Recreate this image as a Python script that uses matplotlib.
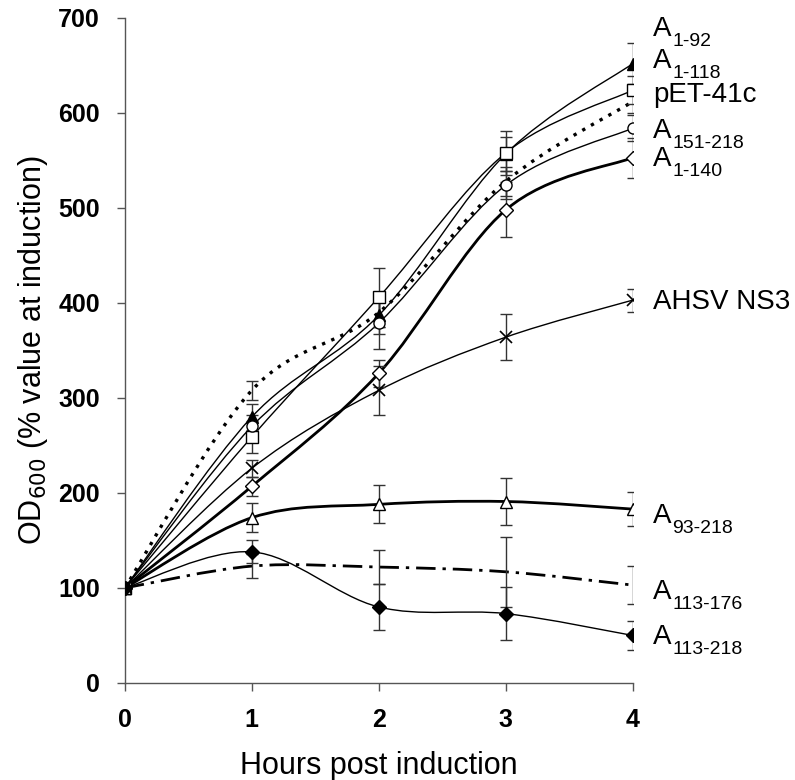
import numpy as np
import matplotlib
matplotlib.use("Agg")
import matplotlib.pyplot as plt
from matplotlib.path import Path
from matplotlib.patches import PathPatch

plt.rcParams['font.family'] = ['Liberation Sans', 'DejaVu Sans']

# hours after induction
hours = [0, 1, 2, 3, 4]

# OD600 as % of the value at induction, with error bars
a1_92 = [100, 280, 387, 557, 652]
a1_92_err = [0, 14, 20, 18, 22]
a1_118 = [100, 259, 406, 558, 624]
a1_118_err = [0, 17, 31, 23, 15]
pet41c = [100, 308, 390, 528, 612]
pet41c_err = [0, 10, 15, 15, 12]
a151_218 = [100, 270, 379, 524, 584]
a151_218_err = [0, 12, 27, 15, 14]
a1_140 = [100, 207, 326, 498, 553]
a1_140_err = [0, 10, 14, 29, 21]
ns3 = [100, 226, 308, 364, 403]
ns3_err = [0, 9, 26, 24, 12]
a93_218 = [100, 174, 188, 191, 183]
a93_218_err = [0, 15, 20, 25, 18]
a113_176 = [100, 123, 122, 117, 103]
a113_176_err = [0, 13, 18, 37, 20]
a113_218 = [100, 138, 80, 73, 50]
a113_218_err = [0, 12, 24, 28, 15]

# right-hand labels: main text, subscript, y position
label_main = ['A', 'A', 'pET-41c', 'A', 'A', 'AHSV NS3', 'A', 'A', 'A']
label_sub = ['1-92', '1-118', '', '151-218', '1-140', '', '93-218', '113-176', '113-218']
label_y = [688, 655, 619, 581, 551, 401, 176, 96, 48]


def smooth(x, y):
    # excel-style smoothed line: cubic bezier through every point
    x = np.asarray(x, float)
    y = np.asarray(y, float)
    px = np.concatenate([[x[0]], x, [x[-1]]])
    py = np.concatenate([[y[0]], y, [y[-1]]])
    verts = [(x[0], y[0])]
    codes = [Path.MOVETO]
    for i in range(1, len(x)):
        c1 = (px[i] + (px[i + 1] - px[i - 1]) / 6, py[i] + (py[i + 1] - py[i - 1]) / 6)
        c2 = (px[i + 1] - (px[i + 2] - px[i]) / 6, py[i + 1] - (py[i + 2] - py[i]) / 6)
        verts += [c1, c2, (px[i + 1], py[i + 1])]
        codes += [Path.CURVE4] * 3
    return Path(verts, codes)


fig = plt.figure(figsize=(7.95, 7.8), dpi=100)
ax = fig.add_axes([0.157, 0.1244, 0.639, 0.8526])

series = [
    (a1_92, a1_92_err, '^', 'black', 1.0, '-'),
    (a1_118, a1_118_err, 's', 'white', 1.0, '-'),
    (pet41c, pet41c_err, None, None, 2.4, (0, (1, 2))),
    (a151_218, a151_218_err, 'o', 'white', 1.0, '-'),
    (a1_140, a1_140_err, 'D', 'white', 2.0, '-'),
    (ns3, ns3_err, 'x', 'black', 1.0, '-'),
    (a93_218, a93_218_err, '^', 'white', 2.0, '-'),
    (a113_176, a113_176_err, None, None, 2.0, (0, (7, 2.5, 1.2, 2.5))),
    (a113_218, a113_218_err, 'D', 'black', 1.0, '-'),
]

for vals, err, mk, fc, lw, ls in series:
    ax.add_patch(PathPatch(smooth(hours, vals), fill=False, edgecolor='black',
                           lw=lw, linestyle=ls, zorder=2))
    ax.errorbar(hours[1:], vals[1:], yerr=err[1:], fmt='none', ecolor='#333333',
                elinewidth=1, capsize=4, capthick=1, zorder=3)
    if mk is not None:
        ms = 7 if mk == 'D' else 8
        ax.plot(hours, vals, linestyle='none', marker=mk, ms=ms, mfc=fc,
                mec='black', mew=1 if mk != 'x' else 1.2, zorder=4)

for main, sub, y in zip(label_main, label_sub, label_y):
    ax.text(4.16, y, main, fontsize=20, va='center', ha='left', clip_on=False)
    if sub:
        ax.annotate(sub, xy=(4.16, y), xytext=(13.6, -9), textcoords='offset points',
                    fontsize=14, va='center', ha='left', annotation_clip=False)

ax.set_xlim(0, 4)
ax.set_ylim(0, 700)
ax.set_xticks(hours)
ax.set_yticks(range(0, 701, 100))
for s in ['top', 'right']:
    ax.spines[s].set_visible(False)
for s in ['left', 'bottom']:
    ax.spines[s].set_color('#555555')
    ax.spines[s].set_linewidth(1)
ax.tick_params(direction='out', length=6, width=1, color='#555555', labelsize=18)
ax.tick_params(axis='x', pad=12)
ax.tick_params(axis='y', pad=12)
for lab in ax.get_xticklabels() + ax.get_yticklabels():
    lab.set_fontweight('bold')

ax.set_xlabel('Hours post induction', fontsize=22, labelpad=14)
ax.set_ylabel('OD$_{600}$ (% value at induction)', fontsize=22, labelpad=6)

fig.savefig('out.png', dpi=100)
